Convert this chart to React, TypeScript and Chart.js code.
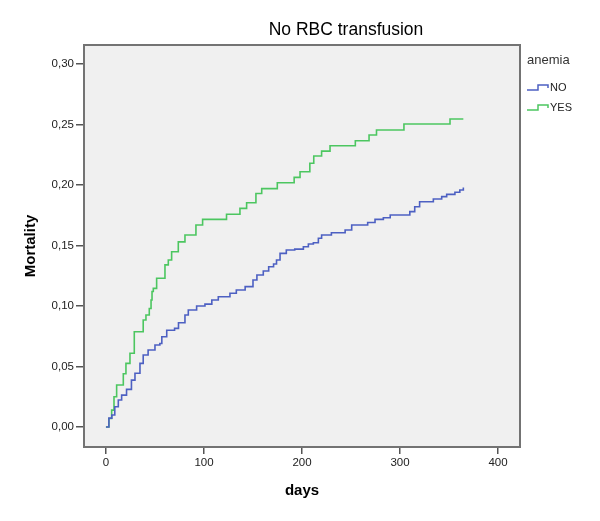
import React, { useEffect, useRef } from "react";
import { Chart, registerables } from "chart.js";

Chart.register(...registerables);

const chartTitle = "No RBC transfusion";
const xTitle = "days";
const yTitle = "Mortality";
const legendTitle = "anemia";
const seriesNames = ["NO", "YES"];
const seriesColors = ["#4d60c2", "#4cc660"];

const xTicks = [0, 100, 200, 300, 400];
const yTicks = [0, 0.05, 0.1, 0.15, 0.2, 0.25, 0.3];

const noDays = [0, 3, 6, 9, 12.6, 16, 21, 26, 29.6, 34.7, 38, 43, 50, 55, 57, 62, 70, 74, 80.6, 84, 92.5, 101, 108, 114.6, 126.5, 133, 142, 150, 154, 160.5, 166, 171, 174, 177.6, 184, 192.6, 201.4, 206.5, 211.6, 216.7, 220, 230, 244, 250.7, 267, 274.5, 283, 290, 310, 315, 320, 334, 342.5, 347.6, 356, 361, 364.6];
const noValues = [0, 0.0074, 0.0099, 0.0168, 0.0223, 0.0264, 0.0311, 0.0388, 0.0444, 0.0526, 0.0595, 0.0636, 0.0678, 0.069, 0.0746, 0.08, 0.0815, 0.0862, 0.0926, 0.0967, 0.1, 0.1016, 0.105, 0.1077, 0.1105, 0.1132, 0.116, 0.1215, 0.1256, 0.129, 0.1325, 0.1347, 0.138, 0.1435, 0.1463, 0.147, 0.149, 0.1512, 0.1523, 0.156, 0.1587, 0.1606, 0.1628, 0.167, 0.169, 0.1716, 0.173, 0.1752, 0.178, 0.182, 0.1862, 0.1884, 0.1904, 0.1923, 0.194, 0.1959, 0.198];

const yesDays = [0, 3, 5.8, 8.2, 10.9, 17.7, 20.4, 24.5, 28.9, 38, 40.8, 44.2, 46, 47, 48.3, 51.7, 60.2, 63.6, 67, 73.8, 80.6, 91.8, 98.6, 123, 136.7, 143.5, 153, 158.9, 174.8, 192, 198, 208, 212, 220, 228.6, 254.4, 268.4, 276, 304, 351, 364.6];
const yesValues = [0, 0.007, 0.014, 0.025, 0.0347, 0.044, 0.0526, 0.061, 0.0788, 0.0884, 0.0926, 0.098, 0.105, 0.112, 0.1146, 0.1229, 0.134, 0.138, 0.1449, 0.153, 0.1587, 0.167, 0.1716, 0.1758, 0.1807, 0.1854, 0.193, 0.197, 0.2019, 0.2063, 0.211, 0.218, 0.224, 0.228, 0.2325, 0.2366, 0.2413, 0.2455, 0.2504, 0.2545, 0.2545];

const FONT = "'Liberation Sans', Arial, sans-serif";

const framePlugin = {
  id: "frame",
  beforeDatasetsDraw(chart: any) {
    const { ctx, chartArea: a } = chart;
    ctx.save();
    ctx.fillStyle = "#f0f0f0";
    ctx.fillRect(a.left, a.top, a.right - a.left, a.bottom - a.top);
    ctx.restore();
  },
  afterDraw(chart: any) {
    const { ctx, chartArea: a } = chart;
    ctx.save();
    ctx.strokeStyle = "#737373";
    ctx.lineWidth = 2;
    ctx.strokeRect(a.left, a.top, a.right - a.left, a.bottom - a.top);

    // title
    ctx.fillStyle = "#000";
    ctx.font = `17.5px ${FONT}`;
    ctx.textAlign = "center";
    ctx.textBaseline = "middle";
    ctx.fillText(chartTitle, 346, 30);

    // legend
    const lx = a.right + 7;
    ctx.textAlign = "left";
    ctx.fillStyle = "#333";
    ctx.font = `13px ${FONT}`;
    ctx.fillText(legendTitle, lx, 60);
    ctx.font = `11px ${FONT}`;
    seriesNames.forEach((name, i) => {
      const cy = 88 + i * 20;
      ctx.strokeStyle = seriesColors[i];
      ctx.lineWidth = 1.5;
      ctx.beginPath();
      ctx.moveTo(lx, cy + 2);
      ctx.lineTo(lx + 11, cy + 2);
      ctx.lineTo(lx + 11, cy - 3);
      ctx.lineTo(lx + 21, cy - 3);
      ctx.lineTo(lx + 21, cy);
      ctx.stroke();
      ctx.fillStyle = "#222";
      ctx.fillText(name, lx + 23, cy);
    });
    ctx.restore();
  },
};

export default function App() {
  const ref = useRef<HTMLCanvasElement | null>(null);
  useEffect(() => {
    if (!ref.current) return;
    const chart = new Chart(ref.current, {
      type: "line",
      data: {
        datasets: [
          {
            label: seriesNames[0],
            data: noDays.map((d, i) => ({ x: d, y: noValues[i] })),
            borderColor: seriesColors[0],
            borderWidth: 1.6,
            stepped: "before",
            pointRadius: 0,
            fill: false,
          },
          {
            label: seriesNames[1],
            data: yesDays.map((d, i) => ({ x: d, y: yesValues[i] })),
            borderColor: seriesColors[1],
            borderWidth: 1.6,
            stepped: "before",
            pointRadius: 0,
            fill: false,
          },
        ],
      },
      options: {
        animation: false,
        responsive: false,
        devicePixelRatio: 1,
        layout: { padding: { top: 45, right: 80, bottom: 0, left: 0 } },
        plugins: {
          legend: { display: false },
          title: { display: false },
          tooltip: { enabled: false },
        },
        scales: {
          x: {
            type: "linear",
            min: -22.4,
            max: 422.4,
            afterFit: (s: any) => {
              s.height = 74;
            },
            afterBuildTicks: (s: any) => {
              s.ticks = xTicks.map((v) => ({ value: v }));
            },
            border: { display: false },
            grid: {
              drawOnChartArea: false,
              drawTicks: true,
              tickLength: 7,
              color: "#555",
              lineWidth: 1.5,
            },
            ticks: {
              font: { family: FONT, size: 11.5 },
              color: "#222",
              padding: 2,
              autoSkip: false,
              maxRotation: 0,
              callback: (v: any) => String(v),
            },
            title: {
              display: true,
              text: xTitle,
              font: { family: FONT, size: 15, weight: "bold" },
              color: "#000",
              padding: { top: 0, bottom: 21 },
            },
          },
          y: {
            type: "linear",
            min: -0.0165,
            max: 0.3157,
            afterFit: (s: any) => {
              s.width = 84;
            },
            afterBuildTicks: (s: any) => {
              s.ticks = yTicks.map((v) => ({ value: v }));
            },
            border: { display: false },
            grid: {
              drawOnChartArea: false,
              drawTicks: true,
              tickLength: 8,
              color: "#555",
              lineWidth: 1.5,
            },
            ticks: {
              font: { family: FONT, size: 11.5 },
              color: "#222",
              padding: 2,
              autoSkip: false,
              callback: (v: any) => Number(v).toFixed(2).replace(".", ","),
            },
            title: {
              display: true,
              text: yTitle,
              font: { family: FONT, size: 15, weight: "bold" },
              color: "#000",
              padding: { top: 22, bottom: 0 },
            },
          },
        },
      },
      plugins: [framePlugin],
    });
    return () => chart.destroy();
  }, []);
  return (
    <div style={{ position: "absolute", left: 0, top: 0, width: 600, height: 521, background: "#fff" }}>
      <canvas ref={ref} width={600} height={521} />
    </div>
  );
}
